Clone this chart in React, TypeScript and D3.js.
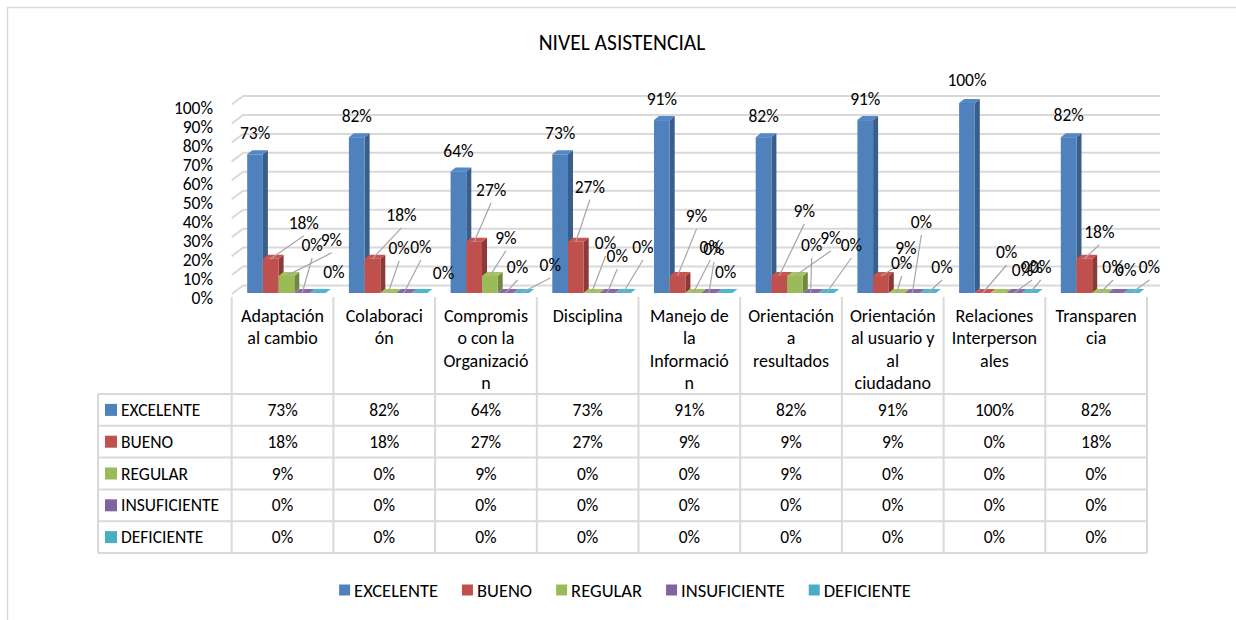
import React, { useRef, useEffect } from "react";
import * as d3 from "d3";

const categories = [
  "Adaptación al cambio",
  "Colaboración",
  "Compromiso con la Organización",
  "Disciplina",
  "Manejo de la Información",
  "Orientación a resultados",
  "Orientación al usuario y al ciudadano",
  "Relaciones Interpersonales",
  "Transparencia",
];
// how the category names wrap inside the table header
const categoryLines = [
  ["Adaptación", "al cambio"],
  ["Colaboraci", "ón"],
  ["Compromis", "o con la", "Organizació", "n"],
  ["Disciplina"],
  ["Manejo de", "la", "Informació", "n"],
  ["Orientación", "a", "resultados"],
  ["Orientación", "al usuario y", "al", "ciudadano"],
  ["Relaciones", "Interperson", "ales"],
  ["Transparen", "cia"],
];
const seriesNames = ["EXCELENTE", "BUENO", "REGULAR", "INSUFICIENTE", "DEFICIENTE"];
const excelente = [73, 82, 64, 73, 91, 82, 91, 100, 82];
const bueno = [18, 18, 27, 27, 9, 9, 9, 0, 18];
const regular = [9, 0, 9, 0, 0, 9, 0, 0, 0];
const insuficiente = [0, 0, 0, 0, 0, 0, 0, 0, 0];
const deficiente = [0, 0, 0, 0, 0, 0, 0, 0, 0];
const yTicks = [0, 10, 20, 30, 40, 50, 60, 70, 80, 90, 100];

const seriesValues = [excelente, bueno, regular, insuficiente, deficiente];
const colors = ["#4F81BD", "#C0504D", "#9BBB59", "#8064A2", "#4BACC6"];

// where the data labels were dragged to, relative to the top of each bar
const labelOffsets = [
  [[0, -21], [33, -36], [45, -36], [10, -48], [16, -21]],
  [[0, -21], [29, -44], [11, -45], [17, -46], [24, -20]],
  [[0, -20], [17, -52], [16, -38], [12, -26], [29, -28]],
  [[0, -21], [14, -55], [14, -50], [10, -37], [20, -46]],
  [[0, -21], [19, -60], [17, -46], [5, -44], [1, -21]],
  [[0, -21], [25, -65], [36, -38], [1, -48], [25, -48]],
  [[0, -21], [25, -28], [5, -30], [9, -71], [14, -26]],
  [[0, -23], [24, -41], [24, -23], [18, -26], [11, -26]],
  [[0, -22], [15, -27], [13, -26], [10, -23], [18, -26]],
];

const FONT = "Carlito, Calibri, Lato, sans-serif";

const App = () => {
  const ref = useRef(null);

  useEffect(() => {
    if (!ref.current) return;
    const svg = d3.select(ref.current);
    svg.selectAll("*").remove();
    svg.style("font-family", FONT);

    const W = 1236, H = 620;
    const plotLeft = 231.7, colW = 101.7;
    const plotRight = plotLeft + colW * categories.length;

    // frame
    svg.append("rect").attr("x", 7.5).attr("y", 7.5).attr("width", W + 20).attr("height", H + 20)
      .attr("fill", "#fff").attr("stroke", "#d9d9d9").attr("stroke-width", 1.5);

    svg.append("text").attr("x", 622).attr("y", 43).attr("text-anchor", "middle")
      .attr("dominant-baseline", "central").style("font-size", "21.5px").attr("fill", "#000")
      .text("NIVEL ASISTENCIAL");

    const x = d3.scaleBand().domain(categories).range([plotLeft, plotRight]);
    const s = d3.scaleBand().domain(seriesNames).range([15.5, 15.5 + 78.5]);
    const y = d3.scaleLinear().domain([0, 100]).range([293, 103]);
    const yWall = d3.scaleLinear().domain([0, 100]).range([294, 104.5]);
    const wallDx = 11.5, wallDy = -8.5;
    const bx = 5, by = -4; // bar depth

    // grid on side wall + back wall
    const grid = svg.append("g").attr("stroke", "#d9d9d9").attr("stroke-width", 2).attr("fill", "none");
    yTicks.forEach(t => {
      const yf = yWall(t);
      grid.append("path")
        .attr("d", `M${plotLeft},${yf}L${plotLeft + wallDx},${yf + wallDy}L${plotRight + 13},${yf + wallDy}`);
    });

    // y axis labels
    svg.append("g").selectAll("text").data(yTicks).join("text")
      .attr("x", 213).attr("y", d => yWall(d) + 3.5)
      .attr("text-anchor", "end").attr("dominant-baseline", "central")
      .style("font-size", "17.5px").attr("fill", "#000")
      .text(d => d + "%");

    // bars
    const bars = svg.append("g");
    categories.forEach((c, ci) => {
      seriesNames.forEach((sn, si) => {
        const v = seriesValues[si][ci];
        const x0 = x(c) + s(sn);
        const w = s.bandwidth();
        const base = y(0), top = y(v);
        const col = d3.color(colors[si]);
        const side = col.darker(0.9).formatHex();
        const topC = col.brighter(0.15).formatHex();
        const g = bars.append("g");
        g.append("path")
          .attr("d", `M${x0 + w},${base}L${x0 + w + bx},${base + by}L${x0 + w + bx},${top + by}L${x0 + w},${top}Z`)
          .attr("fill", side);
        if (base - top > 0)
          g.append("rect").attr("x", x0).attr("y", top).attr("width", w).attr("height", base - top)
            .attr("fill", colors[si]);
        g.append("path")
          .attr("d", `M${x0},${top}L${x0 + w},${top}L${x0 + w + bx},${top + by}L${x0 + bx},${top + by}Z`)
          .attr("fill", topC);
      });
    });

    // data labels with leader lines
    const labels = svg.append("g");
    categories.forEach((c, ci) => {
      seriesNames.forEach((sn, si) => {
        const v = seriesValues[si][ci];
        const cx = x(c) + s(sn) + s.bandwidth() / 2;
        const top = y(v);
        const [dx, dy] = labelOffsets[ci][si];
        const lx = cx + dx, ly = top + dy;
        if (dy < -24) {
          labels.append("line").attr("x1", cx).attr("y1", top).attr("x2", lx).attr("y2", ly + 13)
            .attr("stroke", "#a6a6a6").attr("stroke-width", 1.2);
        }
        labels.append("text").attr("x", lx).attr("y", ly)
          .attr("text-anchor", "middle").attr("dominant-baseline", "central")
          .style("font-size", "17.5px").attr("fill", "#000").text(v + "%");
      });
    });

    // data table
    const tableLeft = 98, headTop = 297;
    const rowTop = 394, rowH = 31.8;
    const tbl = svg.append("g");
    const lines = tbl.append("g").attr("stroke", "#d9d9d9").attr("stroke-width", 2);
    for (let r = 0; r <= seriesNames.length; r++) {
      const yy = rowTop + r * rowH;
      lines.append("line").attr("x1", tableLeft).attr("x2", plotRight).attr("y1", yy).attr("y2", yy);
    }
    lines.append("line").attr("x1", tableLeft).attr("x2", tableLeft)
      .attr("y1", rowTop).attr("y2", rowTop + rowH * seriesNames.length);
    [...categories.map(c => x(c)), plotRight].forEach(xx => {
      lines.append("line").attr("x1", xx).attr("x2", xx)
        .attr("y1", headTop).attr("y2", rowTop + rowH * seriesNames.length);
    });

    categories.forEach((c, ci) => {
      const cx = x(c) + x.bandwidth() / 2;
      categoryLines[ci].forEach((ln, li) => {
        tbl.append("text").attr("x", cx).attr("y", 316 + li * 22.4)
          .attr("text-anchor", "middle").attr("dominant-baseline", "central")
          .style("font-size", "18px").attr("fill", "#000").text(ln);
      });
    });

    seriesNames.forEach((sn, si) => {
      const cy = rowTop + si * rowH + rowH / 2;
      tbl.append("rect").attr("x", 105).attr("y", cy - 6).attr("width", 12).attr("height", 12)
        .attr("fill", colors[si]);
      tbl.append("text").attr("x", 121).attr("y", cy).attr("dominant-baseline", "central")
        .style("font-size", "17.5px").attr("fill", "#000").text(sn);
      categories.forEach((c, ci) => {
        tbl.append("text").attr("x", x(c) + x.bandwidth() / 2).attr("y", cy)
          .attr("text-anchor", "middle").attr("dominant-baseline", "central")
          .style("font-size", "17.5px").attr("fill", "#000").text(seriesValues[si][ci] + "%");
      });
    });

    // legend, centred
    const legend = svg.append("g");
    const items = seriesNames.map((sn, si) => {
      const g = legend.append("g");
      g.append("rect").attr("x", 0).attr("y", -5.5).attr("width", 11).attr("height", 11).attr("fill", colors[si]);
      const t = g.append("text").attr("x", 15).attr("y", 0).attr("dominant-baseline", "central")
        .style("font-size", "18.5px").attr("fill", "#000").text(sn);
      const tw = (t.node() as SVGTextElement).getComputedTextLength();
      return { g, w: 15 + tw };
    });
    const gap = 24;
    const total = d3.sum(items, d => d.w) + gap * (items.length - 1);
    let cur = 625 - total / 2;
    items.forEach(it => {
      it.g.attr("transform", `translate(${cur},590)`);
      cur += it.w + gap;
    });
  }, []);

  return (
    <svg ref={ref} width={1236} height={620}
      style={{ position: "absolute", left: 0, top: 0, display: "block", background: "#fff" }} />
  );
};

export default App;
